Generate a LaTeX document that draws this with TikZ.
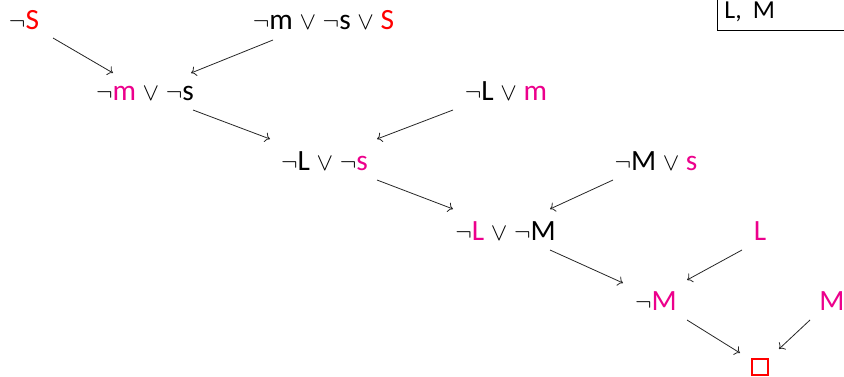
\documentclass[tikz,border=0pt]{standalone}
\usepackage{fontspec}
\setmainfont{Carlito}
\usetikzlibrary{arrows.meta}

\definecolor{litpink}{RGB}{236,0,140}
\newcommand{\litp}[1]{\textcolor{litpink}{#1}}
\newcommand{\litr}[1]{\textcolor{red}{#1}}
\newcommand{\nt}{$\neg$}
\newcommand{\orv}{$\vee$}

\begin{document}
\begin{tikzpicture}[
      x=1bp, y=-1bp,
      >={To[length=5bp, width=10bp]},
      clause/.style={font=\fontsize{29.5}{34}\selectfont, anchor=base, inner sep=0pt},
      resolve/.style={->, line width=0.8bp, draw=black!85},
      kbbox/.style={draw, line width=0.8bp, anchor=south west, align=left,
        font=\fontsize{26}{30}\selectfont, text width=150bp,
        text height=40bp, text depth=9.5bp, inner xsep=7bp, inner ysep=3bp},
      emptybox/.style={draw=red, line width=1.4bp, minimum size=16bp, inner sep=0pt}
    ]
    \useasboundingbox (0,0) rectangle (844,376);

    % knowledge base
    \node[kbbox] (kb) at (717,31) {L,\hspace{11bp}M};

    % input clauses
    \node[clause] (nS) at (24,29) {\nt\litr{S}};
    \node[clause] (c1) at (323.5,29) {\nt m \orv{} \nt s \orv{} \litr{S}};
    \node[clause] (c2) at (506,100) {\nt L \orv{} \litp{m}};
    \node[clause] (c3) at (656,170) {\nt M \orv{} \litp{s}};
    \node[clause] (c4) at (760,240) {\litp{L}};
    \node[clause] (c5) at (832,310) {\litp{M}};

    % resolvents
    \node[clause] (r1) at (145,100) {\nt\litp{m} \orv{} \nt s};
    \node[clause] (r2) at (324.5,170) {\nt L \orv{} \nt\litp{s}};
    \node[clause] (r3) at (505.5,240) {\nt\litp{L} \orv{} \nt M};
    \node[clause] (r4) at (656,310) {\nt\litp{M}};
    \node[emptybox] (box) at (760,367) {};

    % resolution steps
    \draw[resolve] ([shift={(29,9)}]nS.base) -- ([shift={(-32,-27)}]r1.base);
    \draw[resolve] ([shift={(-50.5,11)}]c1.base) -- ([shift={(46,-27)}]r1.base);
    \draw[resolve] ([shift={(48,10)}]r1.base) -- ([shift={(-54.5,-31)}]r2.base);
    \draw[resolve] ([shift={(-53,10)}]c2.base) -- ([shift={(52.5,-31)}]r2.base);
    \draw[resolve] ([shift={(52.5,10)}]r2.base) -- ([shift={(-52.5,-31)}]r3.base);
    \draw[resolve] ([shift={(-43,10)}]c3.base) -- ([shift={(44.5,-31)}]r3.base);
    \draw[resolve] ([shift={(44.5,10)}]r3.base) -- ([shift={(-33,-27)}]r4.base);
    \draw[resolve] ([shift={(-18,10)}]c4.base) -- ([shift={(31,-30)}]r4.base);
    \draw[resolve] ([shift={(31,10)}]r4.base) -- ([shift={(-20,-14)}]box.center);
    \draw[resolve] ([shift={(-22,10)}]c5.base) -- ([shift={(19,-18)}]box.center);
  \end{tikzpicture}
\end{document}
